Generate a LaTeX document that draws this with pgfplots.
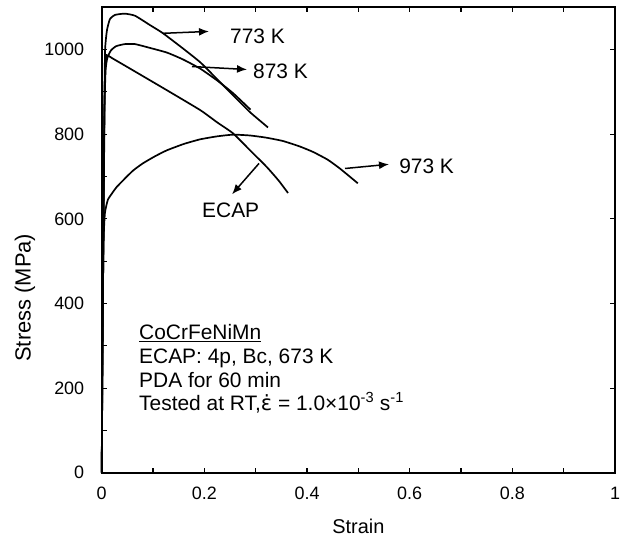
\documentclass[border=0pt]{standalone}
\usepackage{pgfplots}
\pgfplotsset{compat=1.18}
\usepackage{fontspec}
\setmainfont{Liberation Sans}
\newfontfamily\dejavu{DejaVu Sans}
\usetikzlibrary{arrows.meta}
\begin{document}
\begin{tikzpicture}
\path[use as bounding box] (-101.7bp,-70.3bp) rectangle (518.3bp,472.7bp);
\begin{axis}[
  name=main,
  scale only axis, width=513.3bp, height=465.4bp,
  xmin=0, xmax=1, ymin=0, ymax=1100,
  xtick={0,0.2,0.4,0.6,0.8,1},
  minor xtick={0.1,0.3,0.5,0.7,0.9},
  ytick={0,200,400,600,800,1000},
  minor ytick={100,300,500,700,900},
  ytick pos=left,
  tick align=inside,
  major tick length=5bp, minor tick length=5bp,
  every tick/.style={black, line width=1.1bp},
  axis line style={line width=1.8bp},
  /pgf/number format/assume math mode=true,
  /pgf/number format/set thousands separator={},
  tick label style={font=\fontsize{18}{20}\selectfont},
  yticklabel style={xshift=-14bp},
  xticklabel style={yshift=-11bp},
  xlabel={Strain}, ylabel={Stress (MPa)},
  xlabel style={font=\fontsize{20}{22}\selectfont, at={(axis description cs:0.5,-0.116)}, anchor=center},
  ylabel style={font=\fontsize{22}{24}\selectfont, at={(axis description cs:-0.1494,0.376)}, anchor=center, rotate=0},
  clip=false,
]
\addplot[black, line width=1.7bp, smooth, tension=0.3] coordinates {
(0,0)(0.003,500)(0.005,850)(0.0066,999)(0.0103,1046)(0.016,1072)(0.026,1082)(0.045,1085)(0.065,1080)(0.094,1058)(0.119,1039)(0.158,1003)(0.192,970)(0.225,930)(0.256,892)(0.289,852)(0.324,816)};
\addplot[black, line width=1.7bp, smooth, tension=0.3] coordinates {
(0,0)(0.003,500)(0.0055,850)(0.0075,950)(0.011,980)(0.018,998)(0.028,1008)(0.045,1013)(0.065,1013)(0.094,1004)(0.127,993)(0.158,977)(0.192,955)(0.225,927)(0.256,897)(0.29,858)};
\addplot[black, line width=1.7bp, smooth, tension=0.3] coordinates {
(0,0)(0.003,550)(0.0055,880)(0.0075,965)(0.0097,987)(0.02,980)(0.061,951)(0.127,904)(0.192,857)(0.225,828)(0.256,802)(0.289,762)(0.322,722)(0.345,690)(0.363,661)};
\addplot[black, line width=1.7bp, smooth, tension=0.3] coordinates {
(0,0)(0.002,400)(0.004,560)(0.0064,615)(0.012,645)(0.02,660)(0.029,675)(0.045,695)(0.061,714)(0.08,731)(0.104,748)(0.127,762)(0.16,777)(0.192,788)(0.225,795)(0.256,799)(0.289,797)(0.32,792)(0.353,784)(0.386,771)(0.412,758)(0.44,740)(0.464,719)(0.499,684)};
% arrows
\draw[line width=1.5bp, -{Latex[length=10bp,width=8bp]}] (axis cs:0.1194,1038.5) -- (axis cs:0.209,1043);
\draw[line width=1.5bp, -{Latex[length=10bp,width=8bp]}] (axis cs:0.1759,960) -- (axis cs:0.2831,953);
\draw[line width=1.5bp, -{Latex[length=10bp,width=8bp]}] (axis cs:0.474,719) -- (axis cs:0.5597,729);
\draw[line width=1.5bp, -{Latex[length=10bp,width=8bp]}] (axis cs:0.3065,731) -- (axis cs:0.2539,658);
\tikzset{lab/.style={inner sep=0pt, anchor=base west, font=\fontsize{21}{24}\selectfont}}
\node[lab] at (axis cs:0.2499,1014) {773 K};
\node[lab] at (axis cs:0.2948,931.5) {873 K};
\node[lab] at (axis cs:0.5793,707) {973 K};
\node[lab] at (axis cs:0.1954,603) {ECAP};
\node[lab] at (axis cs:0.0727,315) {\underline{CoCrFeNiMn}};
\node[lab] at (axis cs:0.0727,258.4) {ECAP: 4p, Bc, 673 K};
\node[lab] at (axis cs:0.0727,201.7) {PDA for 60 min};
\node[lab] at (axis cs:0.0727,148.1) {Tested at RT,{\dejavu ε̇} = 1.0×10\textsuperscript{-3} s\textsuperscript{-1}};
\end{axis}
\begin{axis}[
  scale only axis, width=513.3bp, height=465.4bp,
  xmin=0, xmax=1, ymin=0, ymax=1100,
  axis x line=none, axis y line*=right,
  ytick={200,400,600,800,1000}, yticklabels={},
  tick align=inside, major tick length=5bp,
  every tick/.style={black, line width=1.1bp},
  axis line style={line width=1.8bp, -},
]
\end{axis}
\end{tikzpicture}
\end{document}
